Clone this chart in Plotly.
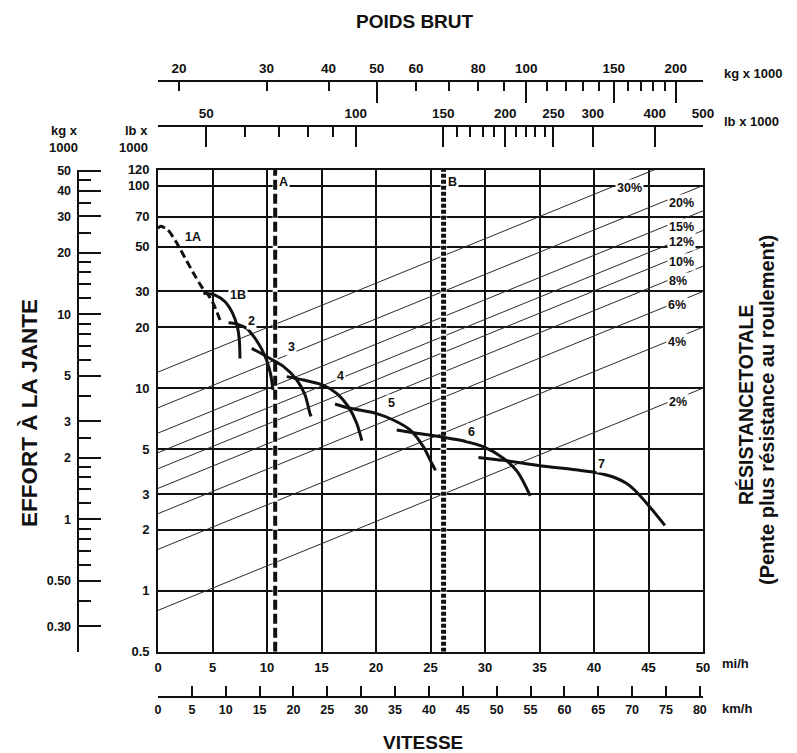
import numpy as np
import plotly.graph_objects as go

# ---------------- data ----------------
speed_mph_ticks = list(range(0, 55, 5))
speed_kmh_ticks = list(range(0, 85, 5))

effort_lb_ticks = [0.5, 1, 2, 3, 5, 10, 20, 30, 50, 70, 100, 120]
effort_lb_text = ["0.5", "1", "2", "3", "5", "10", "20", "30", "50", "70", "100", "120"]

effort_kg_major = [0.3, 0.5, 1, 2, 3, 5, 10, 20, 30, 40, 50]
effort_kg_text = ["0.30", "0.50", "1", "2", "3", "5", "10", "20", "30", "40", "50"]
effort_kg_minor = [0.4, 0.6, 0.7, 0.8, 0.9, 1.2, 1.4, 1.6, 1.8, 2.5, 4, 6, 7, 8, 9,
                   12, 14, 16, 18, 25, 35, 45]

weight_kg_ticks = [20, 30, 40, 50, 60, 70, 80, 90, 100, 110, 120, 130, 140, 150,
                   160, 170, 180, 190, 200]
weight_kg_text = ["20", "30", "40", "50", "60", "", "80", "", "100", "", "", "", "",
                  "150", "", "", "", "", "200"]
weight_kg_long = [50, 100, 150, 200]
weight_lb_major = [50, 100, 150, 200, 250, 300, 400, 500]
weight_lb_minor = [40, 60, 70, 80, 90, 160, 170, 180, 190, 210, 220, 230, 240]

MPH_MAX = 50
KMH_PER_MPH = 1.609344
EFF_MIN, EFF_MAX = 0.5, 120          # lb x 1000
EFF_KG_MIN, EFF_KG_MAX = 0.226, 50.85  # kg x 1000 (as printed)
LB_MIN, LB_MAX = 40, 500             # gross weight, lb x 1000
LB_PER_KG = 2.20462

grades = [2, 4, 6, 8, 10, 12, 15, 20, 30]
grade_text = ["2%", "4%", "6%", "8%", "10%", "12%", "15%", "20%", "30%"]
grade_label_mph = [47.7, 47.6, 47.6, 47.7, 48.0, 48.0, 48.0, 48.0, 43.3]
grade_label_eff = [8.57, 16.95, 25.7, 33.9, 42.1, 52.8, 62.7, 82.3, 96.9]

curves = {
    "1A": ([0.0, 0.25, 0.9, 1.65, 2.45, 3.3, 4.1, 4.71, 5.07, 5.69],
           [61.5, 63.0, 60.3, 52.8, 44.2, 36.6, 31.1, 28.3, 26.2, 21.7]),
    "1B": ([4.16, 5.23, 6.15, 6.85, 7.28, 7.46, 7.52],
           [29.4, 28.8, 26.7, 23.4, 20.1, 17.3, 14.0]),
    "2": ([6.47, 7.25, 8.14, 8.81, 9.45, 9.95, 10.32, 10.55],
          [21.0, 20.7, 19.7, 17.9, 15.8, 13.8, 11.8, 9.8]),
    "3": ([8.6, 9.4, 10.28, 11.5, 12.72, 13.49, 13.94, 14.05],
          [15.7, 14.9, 14.0, 12.8, 11.0, 9.25, 7.5, 7.25]),
    "4": ([11.81, 13.33, 15.02, 16.39, 17.46, 18.23, 18.7],
          [11.4, 10.97, 10.4, 9.43, 8.10, 6.71, 5.5]),
    "5": ([16.24, 17.61, 20.0, 21.59, 23.12, 24.34, 25.11, 25.46],
          [8.35, 7.95, 7.51, 6.96, 6.22, 5.14, 4.26, 3.93]),
    "6": ([21.9, 23.73, 26.17, 28.32, 29.84, 31.7, 33.0, 34.15],
          [6.22, 5.99, 5.72, 5.44, 5.14, 4.5, 3.85, 2.94]),
    "7": ([29.4, 31.7, 34.9, 38.3, 40.3, 42.0, 43.0, 43.7, 45.1, 46.5],
          [4.55, 4.4, 4.15, 3.95, 3.82, 3.6, 3.38, 3.15, 2.6, 2.1]),
}
curve_label_mph = {"1A": 3.24, "1B": 7.37, "2": 8.6, "3": 12.27, "4": 16.7,
                   "5": 21.44, "6": 28.78, "7": 40.7}
curve_label_eff = {"1A": 55.5, "1B": 28.8, "2": 21.4, "3": 16.0, "4": 11.5,
                   "5": 8.42, "6": 6.10, "7": 4.23}

speed_A, speed_B = 10.75, 26.2
label_AB_eff = 104.5

# ---------------- layout geometry ----------------
W, H = 797, 753
FONT = "Liberation Sans, Arial, Helvetica, sans-serif"
INK = "#111111"


def px(x):
    return x / W


def py(y):
    return 1 - y / H


x_dom = [px(158), px(703)]
y_dom = [py(651.7), py(169.5)]

fig = go.Figure()

# grade (total resistance) lines: effort = gross weight * grade
for g in grades:
    fig.add_trace(go.Scatter(
        x=[0, MPH_MAX], y=[LB_MIN * g / 100, LB_MAX * g / 100],
        mode="lines", line=dict(color="#2a2a2a", width=1),
        hoverinfo="skip", showlegend=False))

# A and B reference lines
for s, dash, w in [(speed_A, "10px,4px", 4), (speed_B, "4px,2px", 5)]:
    fig.add_trace(go.Scatter(x=[s, s], y=[EFF_MIN, EFF_MAX], mode="lines",
                             line=dict(color="white", width=w + 1),
                             hoverinfo="skip", showlegend=False))
    fig.add_trace(go.Scatter(x=[s, s], y=[EFF_MIN, EFF_MAX], mode="lines",
                             line=dict(color=INK, width=w, dash=dash),
                             hoverinfo="skip", showlegend=False))

# rimpull curves
for name, (xs, ys) in curves.items():
    fig.add_trace(go.Scatter(
        x=xs, y=ys, mode="lines",
        line=dict(color=INK, width=3, shape="spline", smoothing=0.8,
                  dash="8px,4px" if name == "1A" else "solid"),
        hoverinfo="skip", showlegend=False))

# dummy traces so the auxiliary axes are drawn
for xa in ["x2", "x3", "x4", "x5"]:
    fig.add_trace(go.Scatter(x=[None], y=[None], xaxis=xa, yaxis="y",
                             showlegend=False, hoverinfo="skip"))
fig.add_trace(go.Scatter(x=[None], y=[None], xaxis="x", yaxis="y2",
                         showlegend=False, hoverinfo="skip"))

tickfont = dict(family=FONT, size=13, color=INK, weight="bold")

fig.update_layout(
    width=W, height=H, margin=dict(l=0, r=0, t=0, b=0),
    template="none", paper_bgcolor="white", plot_bgcolor="white",
    showlegend=False,
    xaxis=dict(domain=x_dom, range=[0, MPH_MAX], tickmode="array",
               tickvals=speed_mph_ticks, showgrid=True, gridcolor=INK,
               gridwidth=1.6, showline=True, linecolor=INK, linewidth=1.6,
               mirror=True, ticks="", zeroline=False, tickfont=tickfont,
               ticklabelstandoff=3, anchor="y"),
    yaxis=dict(domain=y_dom, type="log",
               range=[np.log10(EFF_MIN), np.log10(EFF_MAX)], tickmode="array",
               tickvals=effort_lb_ticks, ticktext=effort_lb_text,
               showgrid=True, gridcolor=INK, gridwidth=1.6, showline=True,
               linecolor=INK, linewidth=1.6, mirror=True, ticks="",
               zeroline=False, tickfont=tickfont, ticklabelstandoff=4,
               anchor="x"),
    xaxis2=dict(overlaying="x", anchor="free", position=py(696.7),
                side="bottom", range=[0, MPH_MAX * KMH_PER_MPH],
                tickmode="array", tickvals=speed_kmh_ticks, ticks="inside",
                ticklen=10, tickwidth=1.5, tickcolor=INK, showline=True,
                linecolor=INK, linewidth=1.5, showgrid=False, zeroline=False,
                tickfont=dict(tickfont, size=12.5), ticklabelstandoff=2),
    xaxis3=dict(overlaying="x", anchor="free", position=py(80.7), side="top",
                range=[np.log10(LB_MIN / LB_PER_KG) - 1e-6,
                       np.log10(LB_MAX / LB_PER_KG) + 1e-6],
                tickmode="array",
                tickvals=list(np.log10([LB_MIN / LB_PER_KG + 0.01]
                                       + weight_kg_ticks
                                       + [LB_MAX / LB_PER_KG - 0.05])),
                ticktext=[""] + weight_kg_text + [""],
                ticks="inside", ticklen=10, tickwidth=1.5, tickcolor=INK,
                showline=True, linecolor=INK, linewidth=1.5, showgrid=False,
                zeroline=False, tickfont=dict(tickfont, size=13.5),
                ticklabelstandoff=2),
    xaxis5=dict(overlaying="x", anchor="free", position=py(80.7), side="top",
                range=[np.log10(LB_MIN / LB_PER_KG) - 1e-6,
                       np.log10(LB_MAX / LB_PER_KG) + 1e-6],
                tickmode="array", tickvals=list(np.log10(weight_kg_long)),
                ticks="inside", ticklen=21, tickwidth=1.5, tickcolor=INK,
                showline=False, showgrid=False, zeroline=False,
                showticklabels=False),
    xaxis4=dict(overlaying="x", anchor="free", position=py(126), side="top",
                range=[np.log10(LB_MIN) - 1e-6, np.log10(LB_MAX) + 1e-6],
                tickmode="array", tickvals=list(np.log10(weight_lb_major)),
                ticktext=[str(v) for v in weight_lb_major],
                ticks="inside", ticklen=20.7, tickwidth=1.5, tickcolor=INK,
                minor=dict(tickmode="array",
                           tickvals=list(np.log10(weight_lb_minor)),
                           ticks="inside", ticklen=10, tickwidth=1.5,
                           tickcolor=INK, showgrid=False),
                showline=True, linecolor=INK, linewidth=1.5, showgrid=False,
                zeroline=False, tickfont=dict(tickfont, size=13.5),
                ticklabelstandoff=2),
    yaxis2=dict(overlaying="y", anchor="free", position=px(78.3), side="left",
                range=[np.log10(EFF_KG_MIN), np.log10(EFF_KG_MAX)],
                tickmode="array", tickvals=list(np.log10(effort_kg_major)),
                ticktext=effort_kg_text, ticks="inside", ticklen=22,
                tickwidth=1.5, tickcolor=INK,
                minor=dict(tickmode="array",
                           tickvals=list(np.log10(effort_kg_minor)),
                           ticks="inside", ticklen=12, tickwidth=1.5,
                           tickcolor=INK, showgrid=False),
                showline=True, linecolor=INK, linewidth=1.5, showgrid=False,
                zeroline=False, tickfont=dict(tickfont, size=12.5),
                ticklabelstandoff=4),
)

ann = []


def paper_text(text, x, y, size=12.5, xanchor="center", angle=0):
    ann.append(dict(text=text, x=px(x), y=py(y), xref="paper", yref="paper",
                    showarrow=False, xanchor=xanchor, yanchor="middle",
                    textangle=angle,
                    font=dict(family=FONT, size=size, color=INK,
                              weight="bold")))


def data_text(text, x, y, size=12.5):
    ann.append(dict(text=text, x=x, y=np.log10(y), xref="x", yref="y",
                    showarrow=False, xanchor="center", yanchor="middle",
                    bgcolor="white", borderpad=1,
                    font=dict(family=FONT, size=size, color=INK,
                              weight="bold")))


paper_text("POIDS BRUT", 415, 22, size=19)
paper_text("VITESSE", 423, 742, size=19)
paper_text("EFFORT À LA JANTE", 30, 413, size=22.5, angle=-90)
paper_text("RÉSISTANCETOTALE", 746, 405, size=19.5, angle=-90)
paper_text("(Pente plus résistance au roulement)", 767, 410, size=20, angle=-90)
paper_text("kg x 1000", 722, 73, size=13, xanchor="left")
paper_text("lb x 1000", 722, 122, size=13, xanchor="left")
paper_text("kg x", 80, 130, size=13, xanchor="right")
paper_text("1000", 80, 147, size=13, xanchor="right")
paper_text("lb x", 150, 130, size=13, xanchor="right")
paper_text("1000", 150, 147, size=13, xanchor="right")
paper_text("mi/h", 720, 663, size=13, xanchor="left")
paper_text("km/h", 720, 708, size=13, xanchor="left")

for t, xm, ye in zip(grade_text, grade_label_mph, grade_label_eff):
    data_text(t, xm, ye)
for k in curves:
    data_text(k, curve_label_mph[k], curve_label_eff[k])
data_text("A", speed_A + 0.75, label_AB_eff)
data_text("B", speed_B + 0.8, label_AB_eff)

fig.update_layout(annotations=ann)
fig.write_html("out.html")
